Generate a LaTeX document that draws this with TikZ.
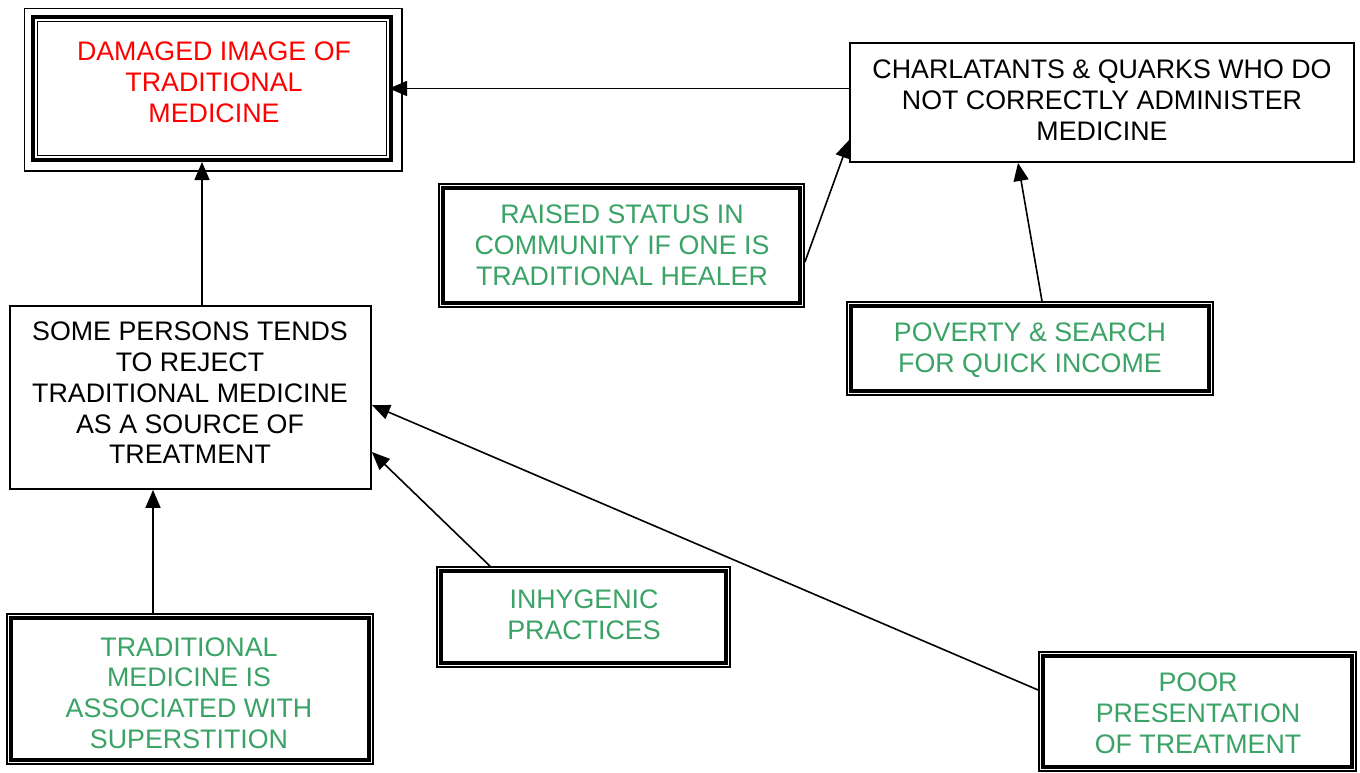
\documentclass[tikz,border=0pt]{standalone}
\usepackage{fontspec}
\setmainfont{Liberation Sans}
\usetikzlibrary{arrows.meta,fit}
\definecolor{causegreen}{RGB}{58,163,101}
\definecolor{effectred}{RGB}{255,0,0}
\begin{document}
\begin{tikzpicture}[x=1pt,y=-1pt,
  plainbox/.style={draw, line width=1.8pt, inner sep=0pt, rectangle},
  heavyframe/.style={draw, line width=4pt, inner sep=0pt, rectangle},
  innerline/.style={line width=3.4pt},
  thinline/.style={line width=1.8pt},
  boxtext/.style={align=center, font=\fontsize{26.8}{30.8}\selectfont, inner sep=0pt},
  arr/.style={-{Triangle[length=18pt,width=15pt]}, line width=1.6pt},
]
\fill[white] (0,0) rectangle (1360,772);
\useasboundingbox (0,0) rectangle (1360,772);

% outcome box with a triple frame
\node[heavyframe, fit={(33,17) (391,160)}] (dmg) {};
\draw[thinline] ([shift={(6.5,6.5)}]dmg.north west) rectangle ([shift={(-6.5,-6.5)}]dmg.south east);
\draw[thinline] ([shift={(-6.5,-6.5)}]dmg.north west) rectangle ([shift={(9,9)}]dmg.south east);
\node[boxtext, text=effectred] (dmg-t) at (214,82) {DAMAGED IMAGE OF\\TRADITIONAL\\MEDICINE};

% plain single-line boxes
\node[plainbox, fit={(850,43) (1354,162)}] (ch) {};
\node[boxtext] (ch-t) at (1102,100) {CHARLATANTS \& QUARKS WHO DO\\NOT CORRECTLY ADMINISTER\\MEDICINE};

\node[plainbox, fit={(10,306) (371,489)}] (sp) {};
\node[boxtext] (sp-t) at (190,393) {SOME PERSONS TENDS\\TO REJECT\\TRADITIONAL MEDICINE\\AS A SOURCE OF\\TREATMENT};

% cause boxes with a double frame
\node[plainbox, fit={(439,184) (804,307)}] (rs) {};
\node[boxtext, text=causegreen] (rs-t) at (622,245) {RAISED STATUS IN\\COMMUNITY IF ONE IS\\TRADITIONAL HEALER};

\node[plainbox, fit={(847,302) (1213,395)}] (pv) {};
\node[boxtext, text=causegreen] (pv-t) at (1030,350) {POVERTY \& SEARCH\\FOR QUICK INCOME};

\node[plainbox, fit={(7,614) (373,764)}] (tm) {};
\node[boxtext, text=causegreen] (tm-t) at (189,693) {TRADITIONAL\\MEDICINE IS\\ASSOCIATED WITH\\SUPERSTITION};

\node[plainbox, fit={(437,567) (730,667)}] (ih) {};
\node[boxtext, text=causegreen] (ih-t) at (584,615) {INHYGENIC\\PRACTICES};

\node[plainbox, fit={(1039,652) (1356,771)}] (pr) {};
\node[boxtext, text=causegreen] (pr-t) at (1198,713) {POOR\\PRESENTATION\\OF TREATMENT};

\foreach \n in {rs,pv,tm,ih,pr}
  \draw[innerline] ([shift={(5,5)}]\n.north west) rectangle ([shift={(-5,-5)}]\n.south east);

% connectors
\draw[arr, shorten >=-4pt] (ch.west |- dmg.east) -- (dmg.east);
\draw[arr] (rs.east |- 0,262) -- (ch.west |- 0,140);
\draw[arr] (pv.north -| 1042,0) -- (ch.south -| 1018,0);
\draw[arr] (sp.north -| 202,0) -- (dmg.south -| 202,0);
\draw[arr] (tm.north -| 153,0) -- (sp.south -| 153,0);
\draw[arr] (ih.north -| 490,0) -- (sp.east |- 0,452);
\draw[arr] (pr.west |- 0,690) -- (sp.east |- 0,405);
\end{tikzpicture}
\end{document}
